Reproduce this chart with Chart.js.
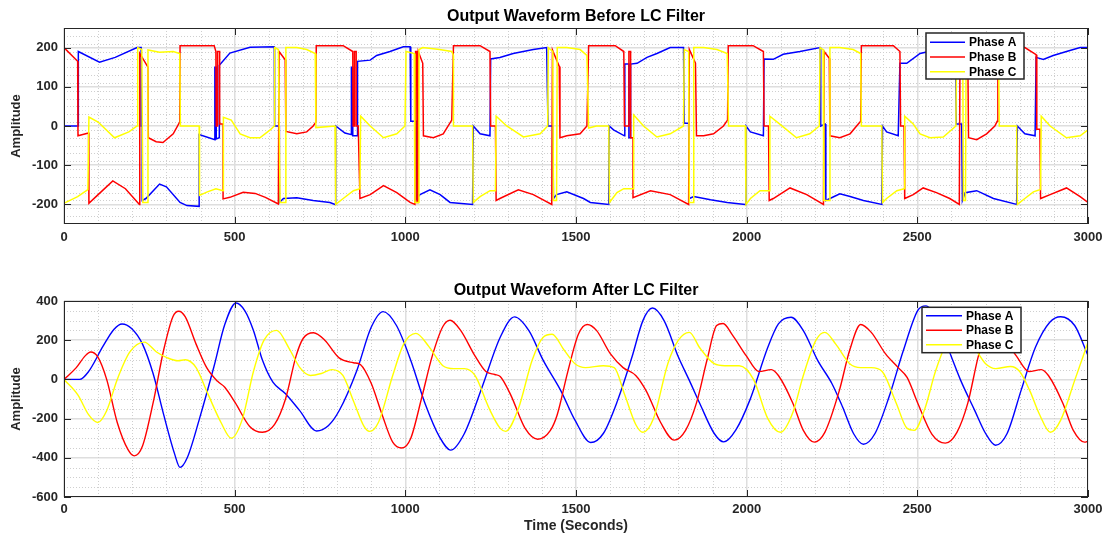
<!DOCTYPE html>
<html>
<head>
<meta charset="utf-8">
<title>Output Waveform Before / After LC Filter</title>
<script src="https://cdn.jsdelivr.net/npm/chart.js@4.4.1/dist/chart.umd.min.js"></script>
<style>
  html, body { margin: 0; padding: 0; background: #fff; }
  .wrap { position: relative; width: 1106px; height: 536px; }
  canvas { position: absolute; left: 0; }
</style>
</head>
<body>
<div class="wrap">
  <canvas id="before" width="1106" height="268" style="top:0"></canvas>
  <canvas id="after" width="1106" height="268" style="top:268px"></canvas>
</div>
<script>
// tick labels
const timeTicks = [0, 500, 1000, 1500, 2000, 2500, 3000];
const beforeTicks = [-200, -100, 0, 100, 200];
const afterTicks = [-600, -400, -200, 0, 200, 400];

// ---- Output waveform before LC filter (time, amplitude) ----
const beforeA_t = [
  0, 42, 42, 104, 150, 214, 226, 226, 229, 229,
  240, 280, 300, 340, 360, 396, 396, 442, 442, 446,
  446, 455, 455, 486, 545, 616, 617, 630, 631, 643,
  682, 730, 779, 794, 796, 823, 842, 842, 846, 846,
  860, 860, 897, 916, 955, 994, 1014, 1016, 1033, 1034,
  1043, 1072, 1102, 1131, 1197, 1199, 1219, 1248, 1250, 1277,
  1316, 1375, 1414, 1418, 1432, 1434, 1443, 1473, 1522, 1542,
  1596, 1597, 1610, 1642, 1643, 1655, 1655, 1659, 1660, 1679,
  1708, 1737, 1776, 1815, 1817, 1830, 1832, 1845, 1894, 1943,
  1996, 1998, 2011, 2049, 2051, 2078, 2107, 2156, 2215, 2217,
  2230, 2232, 2244, 2273, 2303, 2342, 2396, 2398, 2410, 2444,
  2449, 2469, 2508, 2560, 2612, 2614, 2630, 2632, 2640, 2674,
  2723, 2791, 2793, 2815, 2845, 2848, 2869, 2898, 2937, 2977,
  3000
];
const beforeA_v = [
  0, 0, 190, 163, 175, 200, 200, 0, 0, -190,
  -185, -148, -155, -195, -203, -205, -22, -35, 150, 150,
  -33, -30, 155, 186, 201, 202, 0, 0, -195, -185,
  -183, -190, -195, -200, 0, -18, -22, 150, 150, -25,
  -25, 165, 168, 180, 190, 202, 202, 12, 12, -185,
  -175, -163, -175, -195, -200, 0, -20, -25, 171, 175,
  185, 195, 200, 0, 0, -185, -175, -168, -185, -195,
  -200, 0, -10, -25, 158, 158, -30, -30, 158, 160,
  175, 185, 200, 200, 7, 7, -185, -180, -188, -195,
  -200, 0, -15, -25, 171, 170, 183, 190, 200, 0,
  5, -190, -185, -173, -180, -190, -200, 0, -15, -25,
  160, 160, 185, 195, 200, 5, 5, -190, -170, -165,
  -185, -200, 0, -20, -25, 175, 170, 180, 190, 200,
  200
];

const beforeB_t = [
  0, 0, 40, 41, 72, 73, 100, 143, 180, 221,
  222, 246, 247, 270, 290, 320, 339, 340, 440, 445,
  446, 449, 450, 456, 456, 466, 466, 486, 525, 560,
  590, 628, 630, 648, 650, 682, 711, 730, 738, 739,
  818, 846, 847, 850, 851, 856, 856, 862, 867, 897,
  936, 975, 1014, 1028, 1030, 1034, 1034, 1038, 1038, 1051,
  1053, 1082, 1111, 1136, 1141, 1219, 1248, 1250, 1264, 1266,
  1277, 1331, 1375, 1429, 1431, 1451, 1453, 1473, 1512, 1532,
  1537, 1615, 1640, 1642, 1655, 1655, 1660, 1660, 1667, 1667,
  1718, 1776, 1830, 1832, 1850, 1853, 1874, 1903, 1932, 1944,
  1946, 2019, 2049, 2051, 2064, 2066, 2078, 2127, 2176, 2225,
  2227, 2242, 2244, 2273, 2303, 2327, 2334, 2336, 2430, 2449,
  2451, 2461, 2463, 2488, 2517, 2556, 2595, 2623, 2625, 2648,
  2650, 2674, 2703, 2727, 2734, 2736, 2815, 2848, 2850, 2859,
  2861, 2889, 2937, 2977, 3000
];
const beforeB_v = [
  0, 200, 165, -25, -18, -197, -175, -140, -160, -200,
  185, 150, -30, -40, -42, -20, 10, 205, 205, 190,
  0, 0, 190, 190, 5, 5, -186, -182, -169, -172,
  -182, -199, 190, 169, -14, -20, -15, 0, 10, 205,
  205, 190, 0, 0, 190, 190, 0, 0, -185, -175,
  -152, -170, -195, -200, 190, 190, -195, -195, 190, 160,
  -25, -30, -20, 15, 205, 205, 190, 0, 0, -190,
  -185, -163, -175, -200, 194, 152, -30, -25, -20, 0,
  205, 205, 190, 0, 0, 190, 190, -30, -30, -183,
  -165, -175, -200, 195, 160, -25, -25, -20, 0, 15,
  205, 205, 190, 0, 0, -190, -185, -158, -175, -200,
  190, 173, -25, -30, -20, 5, 12, 205, 205, 190,
  0, 0, -185, -175, -158, -170, -185, -200, 190, 165,
  -30, -35, -20, 0, 12, 205, 200, 182, -8, -8,
  -185, -175, -158, -180, -195
];

const beforeC_t = [
  0, 0, 40, 70, 73, 100, 148, 190, 214, 216,
  228, 231, 244, 246, 280, 320, 339, 341, 396, 397,
  420, 445, 466, 467, 490, 516, 545, 574, 604, 616,
  617, 628, 633, 648, 650, 682, 711, 736, 738, 794,
  796, 818, 848, 867, 869, 897, 936, 975, 999, 1002,
  1026, 1028, 1038, 1040, 1051, 1100, 1136, 1141, 1141, 1197,
  1199, 1219, 1248, 1264, 1266, 1297, 1346, 1395, 1417, 1419,
  1432, 1434, 1443, 1445, 1473, 1512, 1532, 1537, 1560, 1596,
  1598, 1620, 1640, 1667, 1669, 1698, 1737, 1776, 1815, 1817,
  1830, 1832, 1843, 1845, 1874, 1913, 1943, 1947, 1996, 1998,
  2011, 2039, 2066, 2068, 2097, 2146, 2185, 2213, 2215, 2224,
  2226, 2242, 2244, 2273, 2312, 2334, 2336, 2396, 2398, 2410,
  2440, 2461, 2463, 2488, 2508, 2537, 2576, 2613, 2615, 2633,
  2635, 2641, 2643, 2700, 2738, 2740, 2791, 2793, 2815, 2840,
  2861, 2863, 2889, 2937, 2977, 3000
];
const beforeC_v = [
  0, -197, -180, -162, 23, 10, -30, -15, 0, 200,
  195, -195, -195, 194, 188, 190, 185, 0, 0, -177,
  -168, -160, -165, 22, 15, -20, -30, -30, -10, 0,
  200, 195, -195, -195, 200, 200, 195, 185, -4, 0,
  -200, -185, -165, -160, 25, 0, -30, -20, 0, 190,
  185, -195, -195, 195, 200, 195, 190, 180, 0, 0,
  -195, -180, -165, -165, 25, 0, -28, -20, 0, 200,
  190, -190, -190, 200, 200, 195, 180, -5, 0, 0,
  -195, -170, -160, -160, 28, 0, -28, -20, 0, 195,
  190, -195, -195, 200, 200, 195, 185, 0, 0, -200,
  -185, -165, -165, 25, 5, -30, -20, 0, 200, 195,
  -190, -190, 200, 200, 195, 185, 0, 0, -195, -185,
  -165, -160, 25, 5, -20, -30, -28, 0, 195, 190,
  -190, -190, 195, 195, 185, 0, 0, -200, -185, -168,
  -162, 25, 0, -30, -25, -10
];

// ---- Output waveform after LC filter (time, amplitude) ----
const afterA_t = [
  0, 46, 72, 114, 146, 170, 198, 230, 261, 292,
  324, 340, 361, 397, 439, 471, 504, 530, 555, 581,
  612, 649, 690, 740, 775, 806, 858, 900, 935, 974,
  1016, 1058, 1100, 1133, 1173, 1225, 1278, 1320, 1362, 1404,
  1455, 1497, 1543, 1580, 1622, 1664, 1696, 1724, 1758, 1800,
  1832, 1863, 1905, 1933, 1968, 2009, 2062, 2093, 2130, 2166,
  2208, 2250, 2281, 2313, 2342, 2376, 2417, 2459, 2501, 2525,
  2560, 2600, 2627, 2668, 2700, 2729, 2763, 2804, 2846, 2888,
  2920, 2961, 3000
];
const afterA_v = [
  0, 0, 40, 168, 255, 283, 260, 180, 30, -180,
  -380, -449, -400, -200, 63, 280, 390, 350, 250, 100,
  -14, -73, -158, -263, -235, -160, 46, 266, 346, 275,
  97, -124, -293, -361, -276, -39, 215, 319, 249, 97,
  -56, -208, -322, -276, -107, 114, 300, 364, 300, 114,
  -5, -124, -276, -319, -259, -107, 164, 283, 317, 249,
  97, -22, -141, -276, -331, -276, -90, 147, 351, 375,
  300, 114, -5, -158, -276, -336, -276, -56, 164, 292,
  320, 275, 122
];

const afterB_t = [
  0, 36, 62, 78, 99, 125, 156, 188, 206, 230,
  261, 292, 319, 336, 355, 387, 418, 450, 471, 502,
  544, 581, 617, 649, 680, 701, 731, 764, 806, 848,
  869, 900, 932, 963, 990, 1016, 1047, 1079, 1110, 1131,
  1162, 1204, 1236, 1262, 1278, 1309, 1351, 1388, 1425, 1445,
  1476, 1507, 1533, 1560, 1601, 1638, 1675, 1706, 1748, 1788,
  1821, 1853, 1884, 1912, 1931, 1957, 1999, 2036, 2072, 2093,
  2135, 2166, 2198, 2229, 2271, 2302, 2334, 2365, 2407, 2444,
  2470, 2501, 2543, 2582, 2616, 2648, 2679, 2700, 2722, 2748,
  2790, 2827, 2863, 2884, 2926, 2957, 2990, 3000
];
const afterB_v = [
  0, 60, 120, 140, 115, 0, -220, -360, -390, -340,
  -120, 150, 320, 348, 320, 180, 60, -10, -40, -120,
  -240, -270, -230, -100, 120, 210, 238, 200, 110, 85,
  75, -20, -180, -320, -350, -300, -100, 120, 270, 302,
  250, 120, 40, 25, 15, -80, -250, -305, -260, -180,
  40, 230, 280, 250, 130, 60, 20, -60, -220, -310,
  -260, -120, 100, 275, 285, 230, 120, 40, 50, 20,
  -120, -260, -320, -270, -60, 150, 280, 240, 130, 60,
  10, -120, -280, -325, -270, -120, 120, 230, 280, 230,
  120, 40, 50, 20, -120, -260, -320, -315
];

const afterC_t = [
  0, 41, 72, 99, 125, 156, 193, 235, 271, 303,
  334, 355, 387, 418, 460, 490, 523, 555, 586, 623,
  659, 691, 722, 754, 785, 817, 848, 879, 895, 921,
  963, 995, 1031, 1068, 1110, 1142, 1173, 1204, 1246, 1278,
  1294, 1331, 1372, 1404, 1430, 1465, 1497, 1528, 1580, 1612,
  1643, 1675, 1696, 1727, 1769, 1800, 1832, 1863, 1905, 1936,
  1978, 2020, 2062, 2099, 2135, 2166, 2203, 2229, 2261, 2302,
  2334, 2365, 2397, 2438, 2470, 2491, 2522, 2553, 2590, 2626,
  2660, 2700, 2730, 2773, 2800, 2830, 2857, 2890, 2920, 2961,
  3000
];
const afterC_v = [
  0, -80, -180, -220, -160, 0, 140, 190, 140, 110,
  95, 100, 60, -60, -220, -300, -200, 40, 200, 250,
  160, 60, 20, 30, 50, 20, -110, -240, -265, -220,
  20, 180, 235, 170, 70, 55, 55, 20, -150, -250,
  -265, -150, 100, 215, 230, 150, 80, 60, 70, 60,
  -80, -230, -270, -200, 80, 200, 240, 160, 80, 70,
  70, 0, -200, -270, -170, 20, 200, 240, 180, 80,
  60, 60, 40, -120, -250, -260, -150, 40, 200, 235,
  180, 80, 55, 66, 40, -60, -175, -270, -208, -5,
  190
];

const FONT = '"Liberation Sans", Arial, Helvetica, sans-serif';
const INK = '#262626';

const pts = (t, v) => t.map((x, i) => ({ x: x, y: v[i] }));

// dotted minor grid under the data, box and inward tick marks on top (matlab look)
const matlabAxes = {
  id: 'matlabAxes',
  beforeDatasetsDraw(chart, args, opts) {
    const { ctx, chartArea: a, scales: { x, y } } = chart;
    ctx.save();
    ctx.strokeStyle = '#cfcfcf';
    ctx.lineWidth = 1;
    ctx.setLineDash([1, 2]);
    ctx.beginPath();
    for (let v = x.min + opts.xMinor; v < x.max; v += opts.xMinor) {
      if (v % opts.xMajor === 0) continue;
      const px = Math.round(x.getPixelForValue(v)) + 0.5;
      ctx.moveTo(px, a.top);
      ctx.lineTo(px, a.bottom);
    }
    for (let v = y.min + opts.yMinor; v < y.max; v += opts.yMinor) {
      if (v % opts.yMajor === 0) continue;
      const py = Math.round(y.getPixelForValue(v)) + 0.5;
      ctx.moveTo(a.left, py);
      ctx.lineTo(a.right, py);
    }
    ctx.stroke();
    ctx.restore();
  },
  afterDatasetsDraw(chart) {
    const { ctx, chartArea: a, scales: { x, y } } = chart;
    ctx.save();
    ctx.strokeStyle = INK;
    ctx.lineWidth = 1;
    ctx.strokeRect(Math.round(a.left) + 0.5, Math.round(a.top) + 0.5,
      Math.round(a.width) - 1, Math.round(a.height) - 1);
    ctx.beginPath();
    x.ticks.forEach(t => {
      const px = Math.round(x.getPixelForValue(t.value)) + 0.5;
      ctx.moveTo(px, a.bottom); ctx.lineTo(px, a.bottom - 7);
      ctx.moveTo(px, a.top); ctx.lineTo(px, a.top + 7);
    });
    y.ticks.forEach(t => {
      const py = Math.round(y.getPixelForValue(t.value)) + 0.5;
      ctx.moveTo(a.left, py); ctx.lineTo(a.left + 7, py);
      ctx.moveTo(a.right, py); ctx.lineTo(a.right - 7, py);
    });
    ctx.stroke();
    ctx.restore();
  }
};

// boxed legend in the upper right, drawn from the datasets
const phaseLegend = {
  id: 'phaseLegend',
  afterDraw(chart, args, o) {
    const ctx = chart.ctx;
    ctx.save();
    ctx.fillStyle = '#ffffff';
    ctx.fillRect(o.x, o.y, o.w, o.h);
    ctx.strokeStyle = INK;
    ctx.lineWidth = 1.5;
    ctx.strokeRect(o.x, o.y, o.w, o.h);
    ctx.font = 'bold 12px ' + FONT;
    ctx.textBaseline = 'middle';
    chart.data.datasets.forEach((ds, i) => {
      const yy = o.y + o.first + i * o.row;
      ctx.strokeStyle = ds.borderColor;
      ctx.lineWidth = 1.5;
      ctx.beginPath();
      ctx.moveTo(o.x + 4, yy);
      ctx.lineTo(o.x + 4 + o.line, yy);
      ctx.stroke();
      ctx.fillStyle = '#000000';
      ctx.fillText(ds.label, o.x + o.line + 8, yy + 0.5);
    });
    ctx.restore();
  }
};

function makeOptions(c) {
  return {
    responsive: false,
    animation: false,
    devicePixelRatio: 1,
    layout: { padding: { left: 0, right: 18, top: 0, bottom: 0 } },
    elements: {
      point: { radius: 0 },
      line: { borderWidth: c.lineWidth, tension: 0, cubicInterpolationMode: c.smooth ? 'monotone' : 'default' }
    },
    plugins: {
      legend: { display: false },
      tooltip: { enabled: false },
      title: {
        display: true,
        text: c.title,
        fullSize: false,
        color: '#000000',
        font: { family: FONT, size: 16, weight: 'bold' },
        padding: c.titlePad
      },
      matlabAxes: { xMinor: 100, xMajor: 500, yMinor: c.yMinor, yMajor: c.yMajor },
      phaseLegend: c.legend
    },
    scales: {
      x: {
        type: 'linear',
        min: 0,
        max: 3000,
        afterBuildTicks: s => { s.ticks = timeTicks.map(v => ({ value: v })); },
        afterFit: s => { s.height = c.xHeight; s.paddingLeft = 0; s.paddingRight = 0; },
        grid: { color: '#dedede', lineWidth: 1.5, drawTicks: false },
        border: { display: false },
        ticks: {
          autoSkip: false, maxRotation: 0, padding: c.xTickPad,
          color: INK, font: { family: FONT, size: 13, weight: 'bold' },
          callback: v => String(v)
        },
        title: {
          display: !!c.xTitle, text: c.xTitle || '', color: INK,
          font: { family: FONT, size: 14, weight: 'bold' },
          padding: { top: 0, bottom: 1 }
        }
      },
      y: {
        min: c.yMin,
        max: c.yMax,
        afterBuildTicks: s => { s.ticks = c.yTicks.map(v => ({ value: v })); },
        afterFit: s => { s.width = 64; s.paddingTop = 0; s.paddingBottom = 0; },
        grid: { color: '#dedede', lineWidth: 1.5, drawTicks: false },
        border: { display: false },
        ticks: {
          autoSkip: false, padding: 6,
          color: INK, font: { family: FONT, size: 13, weight: 'bold' },
          callback: v => String(v)
        },
        title: {
          display: true, text: 'Amplitude', color: INK,
          font: { family: FONT, size: 13, weight: 'bold' },
          padding: { top: 9, bottom: 0 }
        }
      }
    }
  };
}

function phaseSets(a, b, c) {
  return [
    { label: 'Phase A', data: a, borderColor: '#0000ff', order: 2 },
    { label: 'Phase B', data: b, borderColor: '#ff0000', order: 1 },
    { label: 'Phase C', data: c, borderColor: '#ffff00', order: 0 }
  ];
}

new Chart(document.getElementById('before'), {
  type: 'line',
  data: {
    datasets: phaseSets(
      pts(beforeA_t, beforeA_v),
      pts(beforeB_t, beforeB_v),
      pts(beforeC_t, beforeC_v)
    )
  },
  options: makeOptions({
    title: 'Output Waveform Before LC Filter',
    titlePad: { top: 7, bottom: 1.8 },
    yMin: -250, yMax: 250, yTicks: beforeTicks, yMinor: 20, yMajor: 100,
    xHeight: 44, xTickPad: 6, xTitle: null,
    lineWidth: 1.5, smooth: false,
    legend: { x: 926, y: 33, w: 98, h: 46, first: 9.3, row: 14.7, line: 35 }
  }),
  plugins: [matlabAxes, phaseLegend]
});

new Chart(document.getElementById('after'), {
  type: 'line',
  data: {
    datasets: phaseSets(
      pts(afterA_t, afterA_v),
      pts(afterB_t, afterB_v),
      pts(afterC_t, afterC_v)
    )
  },
  options: makeOptions({
    title: 'Output Waveform After LC Filter',
    titlePad: { top: 13, bottom: 0.8 },
    yMin: -600, yMax: 400, yTicks: afterTicks, yMinor: 50, yMajor: 200,
    xHeight: 39, xTickPad: 5, xTitle: 'Time (Seconds)',
    lineWidth: 1.4, smooth: true,
    legend: { x: 922, y: 39.3, w: 99, h: 45.4, first: 8.4, row: 14.5, line: 36 }
  }),
  plugins: [matlabAxes, phaseLegend]
});
</script>
</body>
</html>
